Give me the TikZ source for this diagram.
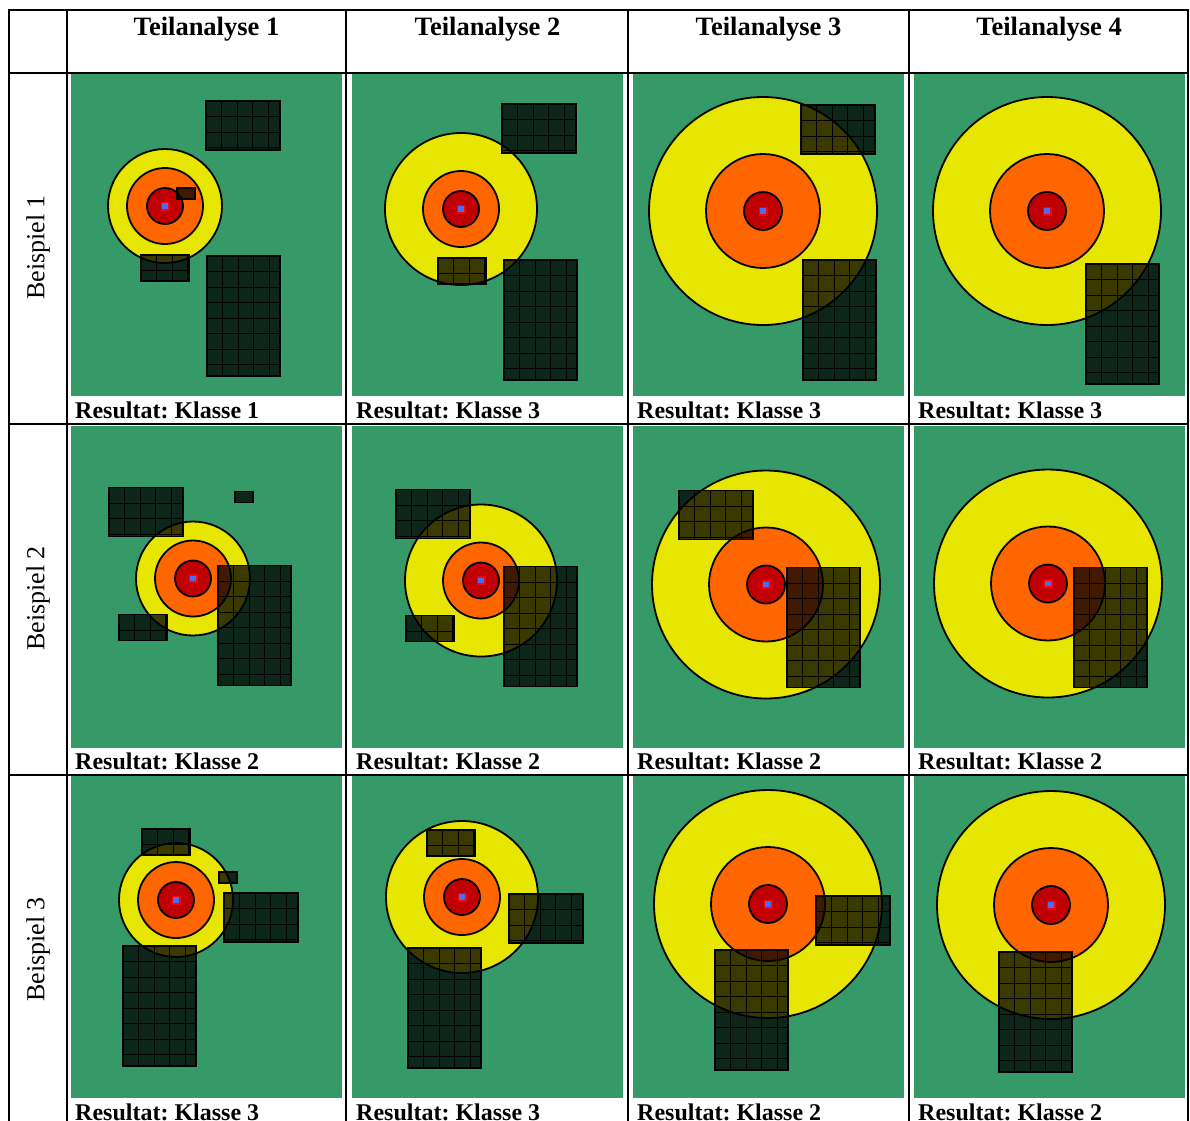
\documentclass[tikz,border=0pt]{standalone}
\usepackage{fontspec}
\setmainfont{Liberation Serif}
\usetikzlibrary{positioning}
\frenchspacing

\definecolor{wiese}{HTML}{359A68}
\definecolor{zoneGelb}{HTML}{E6E600}
\definecolor{zoneOrange}{HTML}{FF6600}
\definecolor{zoneRot}{HTML}{C00000}
\definecolor{zoneHell}{HTML}{FF0000}
\definecolor{zoneBlau}{HTML}{4A6CF7}

\tikzset{
  tabline/.style={line width=2pt},
  kopf/.style={font=\fontsize{26.5}{30}\selectfont\bfseries, anchor=base, inner sep=0pt},
  zeile/.style={font=\fontsize{26}{30}\selectfont, rotate=90, inner sep=0pt},
  resultat/.style={font=\fontsize{24}{28}\selectfont\bfseries, anchor=base west, inner sep=0pt},
  ring/.style={draw=black, line width=1.8pt},
  flaeche/.style={fill=black, fill opacity=0.75},
  gitter/.style={line width=0.8pt, black}
}

% green map area of one cell
\newcommand{\wiese}{%
  \clip (0,0) rectangle (271,322);
  \fill[wiese] (0,0) rectangle (271,322);}
% circles round the centre: x, y, inner, middle, outer radius
\newcommand{\ziel}[5]{%
  \filldraw[ring, fill=zoneGelb] (#1,#2) circle (#5);
  \filldraw[ring, fill=zoneOrange] (#1,#2) circle (#4);
  \filldraw[ring, fill=zoneRot] (#1,#2) circle (#3);
  \fill[zoneHell, shift={(#1,#2)}] (-4.5,-4.5) rectangle (4.5,4.5);
  \fill[zoneBlau, shift={(#1,#2)}] (-2.8,-2.8) rectangle (2.8,2.8);}
% gridded area: x, y, width, height
\newcommand{\feld}[4]{%
  \begin{scope}[shift={(#1,#2)}]
    \fill[flaeche] (0,0) rectangle (#3,#4);
    \begin{scope}
      \clip (0,0) rectangle (#3,#4);
      \foreach \k in {1,...,8} {
        \draw[gitter] (\k*15.5,0) -- (\k*15.5,#4);
        \draw[gitter] (0,\k*15.5) -- (#3,\k*15.5);
      }
    \end{scope}
    \draw[line width=1.8pt] (0,0) rectangle (#3,#4);
  \end{scope}}
% small area without grid
\newcommand{\fleck}[2]{%
  \filldraw[flaeche, draw=black, line width=1.8pt] (#1,#2) rectangle ++(18,11);}

\begin{document}
\begin{tikzpicture}[x=1pt, y=-1pt]
  \useasboundingbox[fill=white] (0,0) rectangle (1190,1120);

  % table
  \draw[tabline] (9,1126) -- (9,10) -- (1188,10) -- (1188,1126);
  \foreach \ty in {72.5, 423.5, 774.5}
    \draw[tabline] (9,\ty) -- (1188,\ty);
  \foreach \tx in {66.5, 346, 627.5, 908.5}
    \draw[tabline] (\tx,10) -- (\tx,1126);

  \node[kopf] (t1) at (206.5,35) {Teilanalyse 1};
  \node[kopf] (t2) at (487.5,35) {Teilanalyse 2};
  \node[kopf] (t3) at (768.5,35) {Teilanalyse 3};
  \node[kopf] (t4) at (1049,35) {Teilanalyse 4};

  \node[zeile] (b1) at (38,247.5) {Beispiel 1};
  \node[zeile] (b2) at (38,598.5) {Beispiel 2};
  \node[zeile] (b3) at (38,949.5) {Beispiel 3};

  % Beispiel 1
  \begin{scope}[shift={(71,74)}]
    \wiese
    \ziel{94}{132}{18}{38}{57}
    \feld{135}{27}{74}{49}
    \fleck{106}{114}
    \feld{70}{181}{48}{26}
    \feld{136}{182}{73}{120}
  \end{scope}
  \begin{scope}[shift={(352,74)}]
    \wiese
    \ziel{109}{135}{18}{38}{76}
    \feld{150}{30}{74}{49}
    \feld{86}{184}{48}{26}
    \feld{152}{186}{73}{120}
  \end{scope}
  \begin{scope}[shift={(633,74)}]
    \wiese
    \ziel{130}{137}{19}{57}{114}
    \feld{168}{31}{74}{49}
    \feld{170}{186}{73}{120}
  \end{scope}
  \begin{scope}[shift={(914,74)}]
    \wiese
    \ziel{133}{137}{19}{57}{114}
    \feld{172}{190}{73}{120}
  \end{scope}

  % Beispiel 2
  \begin{scope}[shift={(71,425.5)}]
    \wiese
    \ziel{122}{153}{18}{38}{57}
    \feld{38}{62}{74}{49}
    \fleck{164}{66}
    \feld{48}{189}{48}{26}
    \feld{147}{140}{73}{120}
  \end{scope}
  \begin{scope}[shift={(352,425.5)}]
    \wiese
    \ziel{129}{155}{18}{38}{76}
    \feld{44}{64}{74}{49}
    \feld{54}{190}{48}{26}
    \feld{152}{141}{73}{120}
  \end{scope}
  \begin{scope}[shift={(633,425.5)}]
    \wiese
    \ziel{133}{159}{19}{57}{114}
    \feld{46}{65}{74}{49}
    \feld{154}{142}{73}{120}
  \end{scope}
  \begin{scope}[shift={(914,425.5)}]
    \wiese
    \ziel{134}{158}{19}{57}{114}
    \feld{160}{142}{73}{120}
  \end{scope}

  % Beispiel 3
  \begin{scope}[shift={(71,776)}]
    \wiese
    \ziel{105}{124}{18}{38}{57}
    \feld{71}{53}{48}{26}
    \fleck{148}{96}
    \feld{153}{117}{74}{49}
    \feld{52}{170}{73}{120}
  \end{scope}
  \begin{scope}[shift={(352,776)}]
    \wiese
    \ziel{110}{121}{18}{38}{76}
    \feld{75}{54}{48}{26}
    \feld{157}{118}{74}{49}
    \feld{56}{172}{73}{120}
  \end{scope}
  \begin{scope}[shift={(633,776)}]
    \wiese
    \ziel{135}{128}{19}{57}{114}
    \feld{183}{120}{74}{49}
    \feld{82}{174}{73}{120}
  \end{scope}
  \begin{scope}[shift={(914,776)}]
    \wiese
    \ziel{137}{129}{19}{57}{114}
    \feld{85}{176}{73}{120}
  \end{scope}

  % results
  \node[resultat] (r11) at (75,418) {Resultat: Klasse 1};
  \node[resultat] (r12) at (356,418) {Resultat: Klasse 3};
  \node[resultat] (r13) at (637,418) {Resultat: Klasse 3};
  \node[resultat] (r14) at (918,418) {Resultat: Klasse 3};
  \node[resultat] (r21) at (75,769) {Resultat: Klasse 2};
  \node[resultat] (r22) at (356,769) {Resultat: Klasse 2};
  \node[resultat] (r23) at (637,769) {Resultat: Klasse 2};
  \node[resultat] (r24) at (918,769) {Resultat: Klasse 2};
  \node[resultat] (r31) at (75,1120) {Resultat: Klasse 3};
  \node[resultat] (r32) at (356,1120) {Resultat: Klasse 3};
  \node[resultat] (r33) at (637,1120) {Resultat: Klasse 2};
  \node[resultat] (r34) at (918,1120) {Resultat: Klasse 2};
\end{tikzpicture}
\end{document}
